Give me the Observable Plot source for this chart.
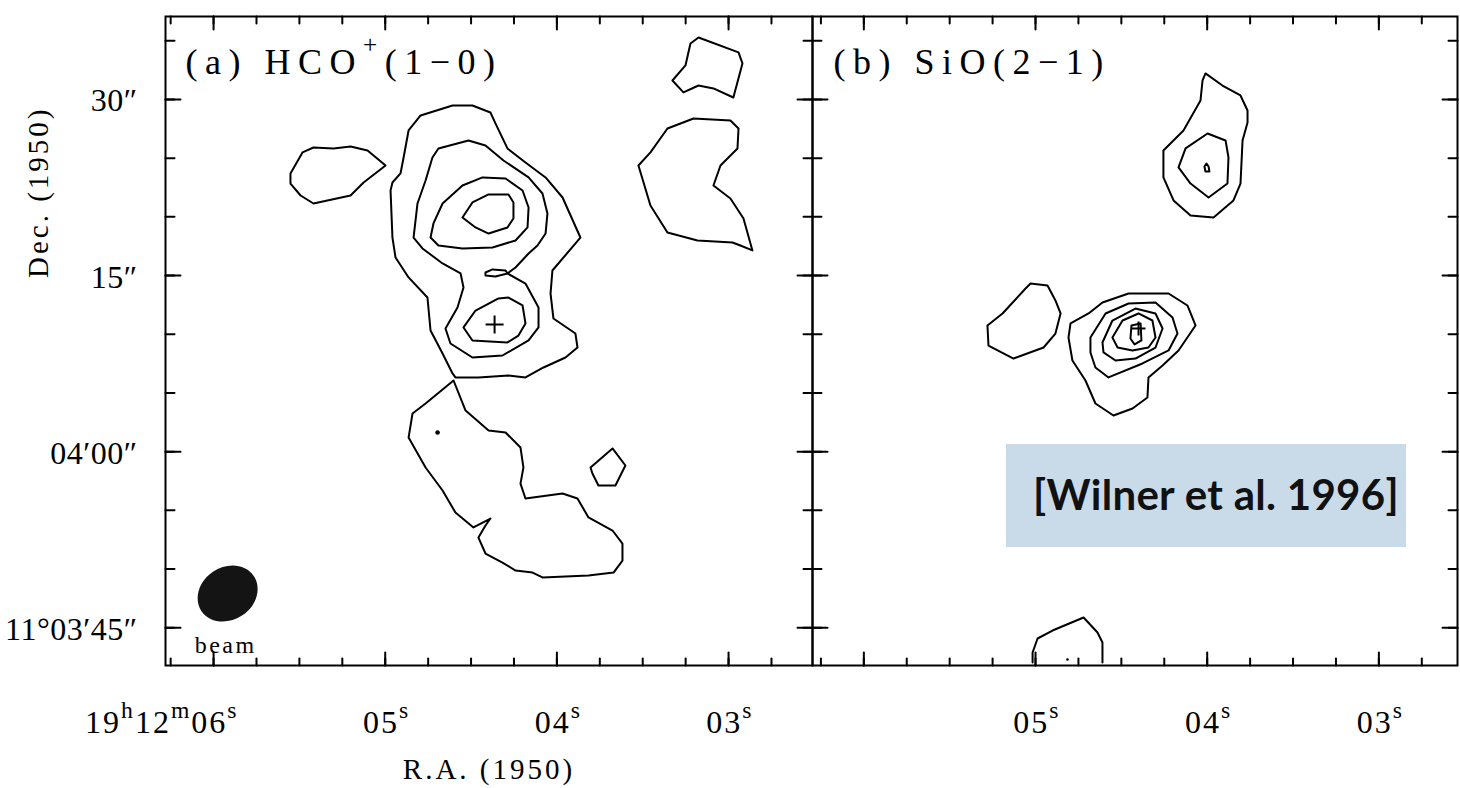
<!DOCTYPE html>
<html><head><meta charset="utf-8">
<script src="https://cdn.jsdelivr.net/npm/d3@7"></script>
<script src="https://cdn.jsdelivr.net/npm/@observablehq/plot@0.6"></script>
<style>
html,body{margin:0;padding:0;background:#fff;}
#wrap{position:relative;width:1460px;height:788px;overflow:hidden;background:#fff;}
#wrap svg{position:absolute;top:0;max-width:none;}
#note{position:absolute;left:1006px;top:444px;width:400px;height:103px;background:#c9dbe9;
  font-family:Lato,"Open Sans",sans-serif;font-weight:700;font-size:42px;line-height:100px;color:#111;
  padding-left:27px;box-sizing:border-box;white-space:nowrap;letter-spacing:0.3px;}
</style></head><body><div id="wrap"></div><script>
// ---------- axes ----------
const decDomain = [41.78, 97.07];            // arcsec past 11°03'00"
const raDomainA = [6.280, 2.511];            // seconds past 19h12m
const raDomainB = [6.299, 2.542];
const decMajor = [45, 60, 75, 90];
const decMinor = [45, 50, 55, 60, 65, 70, 75, 80, 85, 90, 95];
const decLabels = ["11°03′45″", "04′00″", "15″", "30″"];
const raMajor = [6, 5, 4, 3];
const raMinor = [2.75, 3, 3.25, 3.5, 3.75, 4, 4.25, 4.5, 4.75, 5, 5.25, 5.5, 5.75, 6, 6.25];
const raLabelsA = ["19^h12^m06^s", "05^s", "04^s", "03^s"];
const raLabelValuesB = [5, 4, 3];
const raLabelsB = ["05^s", "04^s", "03^s"];
const titleA = "(a) HCO^+(1−0)";
const titleB = "(b) SiO(2−1)";

// ---------- (a) HCO+ contours: [RA s, Dec arcsec] ----------
const hcoWestBlob = [[5.552,83.70],[5.482,85.49],[5.418,85.91],[5.301,85.83],[5.202,86.00],[5.103,85.66],[4.998,84.38],[5.126,82.93],[5.202,81.82],[5.418,81.14],[5.493,81.82],[5.552,82.84]];
const hcoOuter = [[4.794,88.64],[4.608,89.49],[4.492,89.49],[4.387,88.89],[4.358,87.96],[4.288,85.83],[4.183,84.63],[4.066,83.36],[3.967,81.65],[3.863,78.24],[4.026,75.43],[4.037,73.47],[4.020,71.34],[3.892,70.06],[3.880,68.87],[3.950,68.02],[4.078,67.17],[4.183,66.32],[4.282,66.49],[4.457,66.32],[4.591,66.32],[4.608,66.66],[4.666,68.36],[4.736,70.32],[4.754,73.13],[4.864,74.84],[4.940,76.54],[4.958,78.24],[4.969,82.25],[4.958,82.93],[4.911,83.70],[4.893,85.06],[4.864,87.36]];
const hcoSecond = [[4.690,85.83],[4.515,86.51],[4.416,86.08],[4.311,84.80],[4.165,83.36],[4.084,81.99],[4.055,80.29],[4.066,78.58],[4.113,77.56],[4.165,76.88],[4.241,75.69],[4.288,75.18],[4.183,74.32],[4.107,72.28],[4.107,70.58],[4.165,69.47],[4.317,68.19],[4.492,68.02],[4.620,69.21],[4.649,70.49],[4.579,72.28],[4.544,73.98],[4.561,75.18],[4.666,76.03],[4.783,77.31],[4.835,78.24],[4.812,81.14],[4.765,83.10],[4.725,85.06]];
const hcoWaist = [[4.416,75.26],[4.375,75.52],[4.299,75.43],[4.288,75.18],[4.358,74.92],[4.416,75.01]];
const hcoNorth3 = [[4.719,79.44],[4.666,81.14],[4.550,82.67],[4.433,83.36],[4.299,83.27],[4.200,82.25],[4.165,80.80],[4.171,79.10],[4.241,77.99],[4.375,77.39],[4.550,77.31],[4.690,77.56],[4.736,78.24]];
const hcoNorth4 = [[4.550,79.95],[4.492,81.23],[4.398,81.91],[4.282,81.91],[4.253,81.23],[4.253,79.86],[4.288,79.10],[4.398,78.58],[4.474,79.10]];
const hcoSouth3 = [[4.544,70.58],[4.474,72.02],[4.340,73.05],[4.282,73.13],[4.200,72.45],[4.183,70.92],[4.224,69.89],[4.288,69.30],[4.492,69.47]];
const hcoSouthLobe = [[4.602,66.06],[4.532,63.50],[4.398,61.80],[4.299,61.63],[4.212,60.35],[4.195,58.65],[4.212,57.28],[4.183,56.01],[3.967,56.43],[3.880,56.01],[3.816,54.39],[3.676,53.28],[3.618,52.17],[3.618,50.72],[3.670,49.70],[3.816,49.45],[4.084,49.28],[4.142,49.70],[4.241,49.87],[4.317,50.55],[4.416,51.32],[4.457,52.68],[4.416,53.71],[4.387,54.30],[4.486,53.54],[4.591,54.81],[4.666,56.69],[4.765,58.65],[4.864,61.20],[4.841,63.25],[4.765,64.10]];
const hcoEastKnot = [[3.804,58.65],[3.676,60.27],[3.601,58.82],[3.659,57.11],[3.758,57.11],[3.793,58.14]];
const hcoNECap = [[3.175,95.28],[2.942,94.01],[2.919,93.07],[2.972,90.17],[3.088,90.94],[3.175,91.19],[3.263,90.60],[3.327,91.62],[3.251,92.90],[3.222,94.77]];
const hcoNECrescent = [[3.356,87.53],[3.204,88.38],[2.989,88.21],[2.942,87.53],[2.948,85.83],[3.047,84.38],[3.088,82.67],[2.989,81.57],[2.913,79.86],[2.861,77.14],[2.931,77.56],[2.977,77.82],[3.181,77.99],[3.356,78.67],[3.455,80.97],[3.525,84.38],[3.455,85.49],[3.385,86.93]];
const hcoSpeck = [4.695, 61.63];
const hcoSource = [4.363, 70.83];
const beamCenter = [5.918, 47.91];

// ---------- (b) SiO contours ----------
const sioNorthOuter = [[4.010,92.22],[3.911,91.19],[3.806,90.34],[3.765,89.06],[3.765,88.04],[3.794,86.51],[3.806,82.84],[3.847,81.40],[3.963,79.95],[4.097,80.12],[4.196,81.40],[4.255,83.36],[4.255,85.66],[4.138,87.36],[4.039,89.92],[4.027,91.62]];
const sioNorthMid = [[3.998,87.10],[3.893,86.51],[3.876,85.06],[3.882,82.84],[3.992,81.65],[4.097,82.84],[4.167,84.21],[4.126,85.83]];
const sioNorthCore = [[4.004,84.55],[3.992,84.29],[3.987,83.87],[4.010,83.87],[4.016,84.29]];
const sioWestBlob = [[5.029,74.32],[4.930,74.15],[4.884,72.88],[4.854,71.77],[4.884,70.06],[4.953,68.87],[5.128,67.93],[5.274,69.04],[5.280,70.75],[5.192,71.77],[5.058,73.90]];
const sioPeak1 = [[4.808,69.72],[4.796,70.92],[4.691,71.77],[4.610,72.71],[4.458,73.47],[4.225,73.47],[4.115,72.45],[4.068,70.75],[4.167,68.62],[4.260,67.34],[4.342,66.32],[4.348,64.61],[4.435,63.67],[4.546,63.08],[4.651,64.10],[4.709,66.06],[4.785,67.76]];
const sioPeak2 = [[4.680,69.72],[4.592,71.77],[4.458,72.62],[4.301,72.71],[4.202,71.43],[4.173,70.06],[4.225,68.62],[4.377,67.51],[4.575,66.32],[4.651,67.17],[4.680,68.45]];
const sioPeak3 = [[4.610,69.30],[4.552,71.17],[4.418,72.19],[4.301,71.77],[4.260,70.49],[4.301,68.87],[4.418,67.93],[4.534,67.76],[4.604,68.45]];
const sioPeak4 = [[4.552,69.72],[4.493,71.17],[4.400,71.77],[4.319,71.17],[4.301,69.72],[4.342,68.87],[4.435,68.62],[4.522,68.87]];
const sioPeak5 = [[4.441,70.75],[4.388,70.92],[4.383,69.47],[4.423,69.13],[4.447,69.64]];
const sioSouthEdge = [[5.017,42.03],[5.017,42.89],[4.988,44.08],[4.901,44.76],[4.720,45.87],[4.639,44.59],[4.610,43.74],[4.610,42.03]];
const sioSpeck = [4.814, 42.29];
const sioSource = [4.400, 70.49];

// ---------- helpers ----------
const SERIF = '"Liberation Serif", "DejaVu Serif", serif';
const rings = (list) => list.flatMap((pts, id) => pts.map(([ra, dec]) => ({id, ra, dec})));
const tickShape = {draw(ctx, l) { ctx.moveTo(0, 0); ctx.lineTo(0, -l); }};
const plusShape = {draw(ctx, size) { const s = Math.sqrt(size / Math.PI); ctx.moveTo(-s, 0); ctx.lineTo(s, 0); ctx.moveTo(0, -s); ctx.lineTo(0, s); }};
const beamShape = {draw(ctx, size) {
  const r = Math.sqrt(size / Math.PI), a = r * 1.094, b = r * 0.914, k = 0.5523;
  ctx.moveTo(a, 0);
  ctx.bezierCurveTo(a, k * b, k * a, b, 0, b);
  ctx.bezierCurveTo(-k * a, b, -a, k * b, -a, 0);
  ctx.bezierCurveTo(-a, -k * b, -k * a, -b, 0, -b);
  ctx.bezierCurveTo(k * a, -b, a, -k * b, a, 0);
  ctx.closePath();
}};
const px = (d) => d[0], py = (d) => d[1];

function edgeTicks() {
  const t = (vals, ch, frameAnchor, rotate, length) =>
    Plot.vector(vals, {[ch]: (d) => d, frameAnchor, rotate, length, anchor: "start", shape: tickShape, stroke: "black", strokeWidth: 2});
  return [
    t(decMinor, "y", "left", 90, 9), t(decMajor, "y", "left", 90, 15),
    t(decMinor, "y", "right", -90, 9), t(decMajor, "y", "right", -90, 15),
    t(raMinor, "x", "bottom", 0, 7), t(raMajor, "x", "bottom", 0, 13),
    t(raMinor, "x", "top", 180, 7), t(raMajor, "x", "top", 180, 13)
  ];
}
const contourStyle = {x: "ra", y: "dec", z: "id", curve: "linear-closed", stroke: "black", strokeWidth: 2, strokeLinejoin: "round"};
const common = {height: 788, marginTop: 16, marginBottom: 123, y: {domain: decDomain, axis: null},
  style: {background: "transparent", overflow: "visible", color: "black"}};

const plotA = Plot.plot({
  ...common, width: 812, marginLeft: 165, marginRight: 0,
  x: {domain: raDomainA, axis: null},
  marks: [
    ...edgeTicks(),
    Plot.line(rings([hcoWestBlob, hcoOuter, hcoSecond, hcoWaist, hcoNorth3, hcoNorth4, hcoSouth3, hcoSouthLobe, hcoEastKnot, hcoNECap, hcoNECrescent]), contourStyle),
    Plot.dot([hcoSpeck], {x: px, y: py, r: 2.3, fill: "black"}),
    Plot.dot([hcoSource], {x: px, y: py, r: 9, symbol: plusShape, fill: "none", stroke: "black", strokeWidth: 2}),
    Plot.dot([beamCenter], {x: px, y: py, r: 28.8, symbol: beamShape, rotate: -34, fill: "#141414", stroke: "none"}),
    Plot.text([beamCenter], {x: px, y: py, text: () => "beam", dx: -2, dy: 59, lineAnchor: "bottom", fontSize: 24, fontFamily: SERIF, ariaDescription: "beam"}),
    Plot.text(decMajor, {y: (d) => d, text: (d, i) => decLabels[i], frameAnchor: "left", dx: -28, dy: 12, lineAnchor: "bottom", textAnchor: "end", fontSize: 32, fontFamily: SERIF, ariaDescription: "ticklabels"}),
    Plot.text(raMajor, {x: (d) => d, text: (d, i) => raLabelsA[i], frameAnchor: "bottom", dx: 25, dy: 67, lineAnchor: "bottom", textAnchor: "end", fontSize: 32, fontFamily: SERIF, ariaDescription: "ralabels"}),
    Plot.text([titleA], {frameAnchor: "top-left", dx: 20, dy: 57, lineAnchor: "bottom", textAnchor: "start", fontSize: 36, fontFamily: SERIF, ariaDescription: "title"}),
    Plot.text(["R.A. (1950)"], {frameAnchor: "bottom", dy: 113, lineAnchor: "bottom", fontSize: 29, fontFamily: SERIF, ariaDescription: "axislabel"}),
    Plot.text(["Dec. (1950)"], {frameAnchor: "left", dx: -127, dy: -63, rotate: -90, lineAnchor: "middle", fontSize: 29, fontFamily: SERIF, ariaDescription: "axislabel"}),
    Plot.frame({stroke: "black", strokeWidth: 2})
  ]
});

const plotB = Plot.plot({
  ...common, width: 648, marginLeft: 0, marginRight: 3,
  x: {domain: raDomainB, axis: null},
  marks: [
    ...edgeTicks(),
    Plot.line(rings([sioNorthOuter, sioNorthMid, sioNorthCore, sioWestBlob, sioPeak1, sioPeak2, sioPeak3, sioPeak4, sioPeak5]), contourStyle),
    Plot.line(sioSouthEdge, {x: px, y: py, stroke: "black", strokeWidth: 2, strokeLinejoin: "round"}),
    Plot.dot([sioSpeck], {x: px, y: py, r: 1.3, fill: "black"}),
    Plot.dot([sioSource], {x: px, y: py, r: 7, symbol: plusShape, fill: "none", stroke: "black", strokeWidth: 2}),
    Plot.text(raLabelValuesB, {x: (d) => d, text: (d, i) => raLabelsB[i], frameAnchor: "bottom", dx: 25, dy: 67, lineAnchor: "bottom", textAnchor: "end", fontSize: 32, fontFamily: SERIF, ariaDescription: "ralabels"}),
    Plot.text([titleB], {frameAnchor: "top-left", dx: 21, dy: 57, lineAnchor: "bottom", textAnchor: "start", fontSize: 36, fontFamily: SERIF, ariaDescription: "title"}),
    Plot.frame({stroke: "black", strokeWidth: 2})
  ]
});

function supify(svg, desc, scale, raise) {
  d3.select(svg).selectAll(`g[aria-description="${desc}"] text`).each(function () {
    const raw = this.textContent;
    if (!raw.includes("^")) return;
    const el = d3.select(this);
    el.text(null);
    let raised = false;
    for (const p of raw.split(/(\^.)/)) {
      if (!p) continue;
      if (p[0] === "^") {
        el.append("tspan").attr("font-size", `${scale}em`).attr("dy", -raise).text(p.slice(1));
        raised = true;
      } else {
        const t = el.append("tspan").text(p);
        if (raised) { t.attr("dy", raise); raised = false; }
      }
    }
  });
}
function spacing(svg, desc, v) {
  d3.select(svg).selectAll(`g[aria-description="${desc}"] text`).style("letter-spacing", v);
}
for (const svg of [plotA, plotB]) {
  supify(svg, "ralabels", 0.74, 15);
  supify(svg, "title", 0.7, 21);
  spacing(svg, "title", "7.5px");
  spacing(svg, "ralabels", "2px");
  spacing(svg, "ticklabels", "0.5px");
  spacing(svg, "axislabel", "3px");
  spacing(svg, "beam", "2.5px");
}
const wrap = document.getElementById("wrap");
plotA.style.left = "0px";
plotB.style.left = "812px";
wrap.append(plotA, plotB);
const note = document.createElement("div");
note.id = "note";
note.textContent = "[Wilner et al. 1996]";
wrap.append(note);
</script></body></html>
